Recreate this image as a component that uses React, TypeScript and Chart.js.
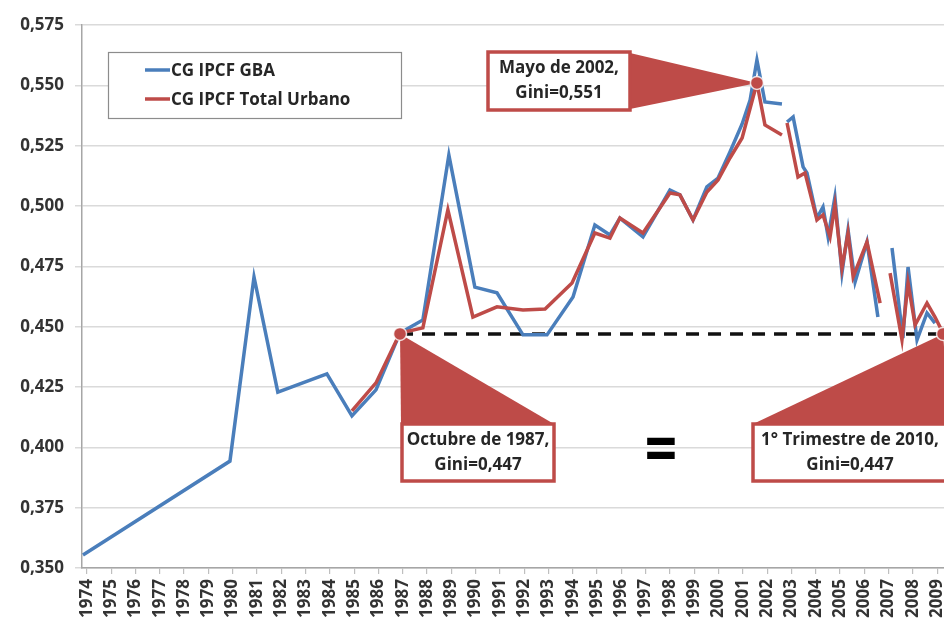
import React, { useEffect, useRef } from "react";
import { Chart, registerables } from "chart.js";
Chart.register(...registerables);

// ---------- data ----------
const yearLabels = [1974, 1975, 1976, 1977, 1978, 1979, 1980, 1981, 1982, 1983, 1984, 1985, 1986, 1987, 1988, 1989, 1990, 1991, 1992, 1993, 1994, 1995, 1996, 1997, 1998, 1999, 2000, 2001, 2002, 2003, 2004, 2005, 2006, 2007, 2008, 2009];
const yTickValues = [0.35, 0.375, 0.4, 0.425, 0.45, 0.475, 0.5, 0.525, 0.55, 0.575];

const seriesNames = ["CG IPCF GBA", "CG IPCF Total Urbano"];

// CG IPCF GBA (x = position on the year axis, null = gap)
const gbaX = [1973.84, 1979.89, 1980.88, 1981.86, 1983.88, 1984.91, 1985.9, 1986.89, 1987.83, 1988.9, 1989.97, 1990.88, 1991.95, 1992.94, 1994.01, 1994.91, 1995.53, 1995.94, 1996.89, 1998.0, 1998.41, 1998.95, 1999.52, 1999.98, 2000.47, 2000.97, 2001.3, 2001.58, 2001.91, 2002.61, 2002.7, 2002.82, 2003.07, 2003.48, 2003.64, 2004.05, 2004.3, 2004.51, 2004.79, 2005.08, 2005.33, 2005.62, 2006.11, 2006.56, 2006.85, 2007.14, 2007.59, 2007.8, 2008.17, 2008.58, 2008.91];
const gbaY = [0.3554, 0.3943, 0.4706, 0.4229, 0.4304, 0.413, 0.4238, 0.4474, 0.4528, 0.5211, 0.4664, 0.464, 0.4466, 0.4466, 0.4623, 0.4921, 0.488, 0.495, 0.4872, 0.5066, 0.5046, 0.4942, 0.5079, 0.5116, 0.5224, 0.534, 0.5439, 0.5605, 0.5431, 0.5423, null, 0.5348, 0.5369, 0.5162, 0.5137, 0.495, 0.4996, 0.4872, 0.5037, 0.4723, 0.4901, 0.4685, 0.4851, 0.454, null, 0.4826, 0.4453, 0.4747, 0.4445, 0.4557, 0.4515];

// CG IPCF Total Urbano
const urbX = [1984.91, 1985.9, 1986.89, 1987.83, 1988.86, 1989.89, 1990.88, 1991.95, 1992.86, 1993.97, 1994.91, 1995.53, 1995.94, 1996.89, 1998.0, 1998.41, 1998.95, 1999.52, 1999.98, 2000.47, 2000.97, 2001.58, 2001.91, 2002.61, 2002.7, 2002.82, 2003.27, 2003.56, 2004.05, 2004.3, 2004.59, 2004.79, 2005.08, 2005.33, 2005.54, 2006.11, 2006.65, 2006.85, 2007.06, 2007.55, 2007.8, 2008.09, 2008.58, 2008.91, 2009.24];
const urbY = [0.4151, 0.4267, 0.4474, 0.4495, 0.4984, 0.454, 0.4582, 0.4569, 0.4573, 0.4681, 0.4888, 0.4867, 0.495, 0.4888, 0.5054, 0.5046, 0.4942, 0.5058, 0.5108, 0.5199, 0.5282, 0.551, 0.5336, 0.5294, null, 0.5344, 0.512, 0.5137, 0.4942, 0.4963, 0.4872, 0.5004, 0.4743, 0.4888, 0.4706, 0.4851, 0.4598, null, 0.4722, 0.4445, 0.4681, 0.4507, 0.4598, 0.454, 0.4474];

// highlighted points (Octubre 1987, Mayo 2002, 1° Trim 2010)
const markX = [1986.89, 2001.58, 2009.24];
const markY = [0.447, 0.551, 0.447];
const calloutLines = [
  ["Octubre de 1987,", "Gini=0,447"],
  ["Mayo de 2002,", "Gini=0,551"],
  ["1° Trimestre de 2010,", "Gini=0,447"],
];
const equalsText = "=";

// ---------- style ----------
const BLUE = "#4a7ebb";
const RED = "#be4b48";
const FONT = "'Open Sans', 'DejaVu Sans', sans-serif";
const TEXT = "#262626";

type Box = { x: number; y: number; w: number; h: number; base: [number, number][] };
const calloutBoxes: Box[] = [
  { x: 402, y: 424, w: 152, h: 57, base: [[401, 424], [554, 424]] },
  { x: 488, y: 52, w: 142, h: 58, base: [[630, 53], [630, 109]] },
  { x: 753, y: 424, w: 194, h: 57, base: [[753, 424], [950, 424]] },
];

const overlay = {
  id: "overlay",
  beforeDatasetsDraw(chart: any) {
    const { ctx, scales } = chart;
    const x = scales.x, y = scales.y;
    const yy = y.getPixelForValue(markY[0]);
    ctx.save();
    ctx.setLineDash([13, 9]);
    ctx.lineWidth = 3.5;
    ctx.strokeStyle = "#111";
    ctx.beginPath();
    ctx.moveTo(x.getPixelForValue(markX[0]), yy);
    ctx.lineTo(x.getPixelForValue(markX[2]), yy);
    ctx.stroke();
    ctx.restore();
  },
  afterDatasetsDraw(chart: any) {
    const { ctx, scales } = chart;
    const x = scales.x, y = scales.y;
    ctx.save();
    // legend
    ctx.fillStyle = "#fff";
    ctx.fillRect(108, 52, 293, 66);
    ctx.strokeStyle = "#8c8c8c";
    ctx.lineWidth = 1.2;
    ctx.strokeRect(108.5, 52.5, 293, 66);
    const legendColors = [BLUE, RED];
    const legendY = [70, 99];
    ctx.font = `bold 17px ${FONT}`;
    ctx.textBaseline = "middle";
    ctx.textAlign = "left";
    seriesNames.forEach((n, i) => {
      ctx.strokeStyle = legendColors[i];
      ctx.lineWidth = 3.5;
      ctx.beginPath();
      ctx.moveTo(145, legendY[i]);
      ctx.lineTo(170, legendY[i]);
      ctx.stroke();
      ctx.fillStyle = TEXT;
      ctx.fillText(n, 171, legendY[i] + 1);
    });

    // callouts
    calloutBoxes.forEach((b, i) => {
      const tx = x.getPixelForValue(markX[i]);
      const ty = y.getPixelForValue(markY[i]);
      ctx.fillStyle = RED;
      ctx.beginPath();
      ctx.moveTo(b.base[0][0], b.base[0][1]);
      ctx.lineTo(tx, ty);
      ctx.lineTo(b.base[1][0], b.base[1][1]);
      ctx.closePath();
      ctx.fill();
      ctx.fillStyle = "#fff";
      ctx.fillRect(b.x, b.y, b.w, b.h);
      ctx.strokeStyle = RED;
      ctx.lineWidth = 3.5;
      ctx.strokeRect(b.x, b.y, b.w, b.h);
      ctx.fillStyle = TEXT;
      ctx.font = `bold 17px ${FONT}`;
      ctx.textAlign = "center";
      ctx.textBaseline = "middle";
      const cx = b.x + b.w / 2;
      ctx.fillText(calloutLines[i][0], cx, b.y + 16);
      ctx.fillText(calloutLines[i][1], cx, b.y + 41);
      // marker dot
      ctx.beginPath();
      ctx.arc(tx, ty, 6.5, 0, Math.PI * 2);
      ctx.fillStyle = RED;
      ctx.fill();
      ctx.lineWidth = 1.5;
      ctx.strokeStyle = "rgba(255,255,255,0.8)";
      ctx.stroke();
    });

    // equals sign
    ctx.save();
    ctx.translate(661, 452);
    ctx.scale(1, 1.4);
    ctx.fillStyle = "#000";
    ctx.font = `bold 44px 'DejaVu Sans', sans-serif`;
    ctx.textAlign = "center";
    ctx.textBaseline = "middle";
    ctx.fillText(equalsText, 0, 0);
    ctx.restore();

    ctx.restore();
  },
};

export default function App() {
  const ref = useRef<HTMLCanvasElement>(null);
  useEffect(() => {
    const gba = gbaX.map((v, i) => ({ x: v, y: gbaY[i] }));
    const urb = urbX.map((v, i) => ({ x: v, y: urbY[i] }));
    const chart = new Chart(ref.current as HTMLCanvasElement, {
      type: "line",
      data: {
        datasets: [
          { label: seriesNames[0], data: gba as any, borderColor: BLUE, backgroundColor: BLUE, borderWidth: 3.5, pointRadius: 0, tension: 0, spanGaps: false, order: 1 },
          { label: seriesNames[1], data: urb as any, borderColor: RED, backgroundColor: RED, borderWidth: 3.5, pointRadius: 0, tension: 0, spanGaps: false, order: 0 },
        ],
      },
      options: {
        animation: false,
        responsive: false,
        devicePixelRatio: 1,
        layout: { padding: { top: 25, right: 0, left: 0, bottom: 0 } },
        plugins: { legend: { display: false }, tooltip: { enabled: false } },
        scales: {
          x: {
            type: "linear",
            min: 1973.8,
            max: 2009.28,
            afterBuildTicks: (s: any) => {
              s.ticks = yearLabels.map((v) => ({ value: v }));
            },
            afterFit: (s: any) => {
              s.height = 61;
              s.paddingLeft = 0;
              s.paddingRight = 0;
            },
            ticks: {
              autoSkip: false,
              minRotation: 90,
              maxRotation: 90,
              padding: 5,
              color: "#333",
              font: { family: FONT, weight: "bold", size: 17 },
              callback: (v: any) => String(v),
            },
            grid: { display: true, drawOnChartArea: false, tickLength: 6, color: "#bfbfbf", lineWidth: 1.2 },
            border: { display: true, color: "#a6a6a6", width: 1.5 },
          },
          y: {
            type: "linear",
            min: 0.35,
            max: 0.575,
            afterBuildTicks: (s: any) => {
              s.ticks = yTickValues.map((v) => ({ value: v }));
            },
            afterFit: (s: any) => {
              s.width = 82;
              s.paddingTop = 0;
              s.paddingBottom = 0;
            },
            ticks: {
              padding: 11,
              color: "#333",
              font: { family: FONT, weight: "bold", size: 17 },
              callback: (v: any) => Number(v).toFixed(3).replace(".", ","),
            },
            grid: { color: "#dadada", lineWidth: 1.5, tickLength: 7 },
            border: { display: true, color: "#a6a6a6", width: 1.5 },
          },
        },
      },
      plugins: [overlay],
    });
    return () => chart.destroy();
  }, []);
  return (
    <div style={{ position: "absolute", left: 0, top: 0, width: 944, height: 629, background: "#fff" }}>
      <canvas ref={ref} width={944} height={629} style={{ display: "block", width: 944, height: 629 }} />
    </div>
  );
}
